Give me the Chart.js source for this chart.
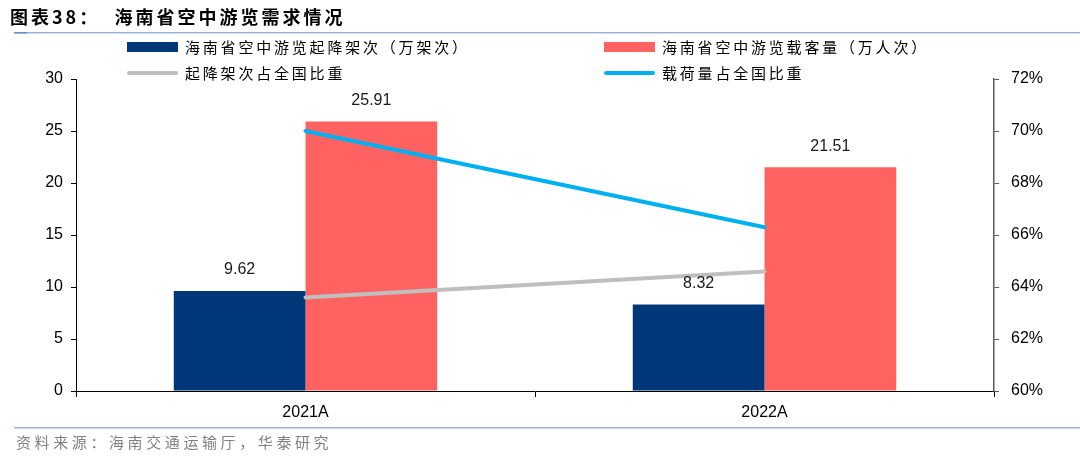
<!DOCTYPE html>
<html>
<head>
<meta charset="utf-8">
<script src="https://cdn.jsdelivr.net/npm/chart.js@4"></script>
<style>
  html, body { margin: 0; padding: 0; background: #fff; }
  #wrap { width: 1080px; height: 463px; position: relative; }
</style>
</head>
<body>
<div id="wrap"><canvas id="carta_demand"></canvas></div>
<script>
// data
const categories = ["2021A", "2022A"]
const flightsValues = [9.62, 8.32]        // 万架次
const passengerValues = [25.91, 21.51]    // 万人次
const flightsShare = [63.6, 64.6]         // % of country
const loadShare = [70.0, 66.3]            // % of country
const seriesNames = [
    "海南省空中游览起降架次（万架次）",
    "海南省空中游览载客量（万人次）",
    "起降架次占全国比重",
    "载荷量占全国比重"
]
const leftTicks = [0, 30, 5]
const rightTicks = [60, 72, 2]

const titleText = "图表38：  海南省空中游览需求情况"
const sourceText = "资料来源：海南交通运输厅，华泰研究"

const cjk = "'Noto Sans CJK SC', 'Noto Sans', sans-serif"
const latin = "'Liberation Sans', Arial, sans-serif"

// title, rules, legend, source and value labels
const decorations = {
    id: "decorations",
    afterDatasetsDraw(chart) {
        const ctx = chart.ctx
        ctx.save()

        // title
        ctx.fillStyle = "#000"
        ctx.font = "bold 18px " + cjk
        ctx.letterSpacing = "3px"
        ctx.textBaseline = "middle"
        ctx.textAlign = "left"
        ctx.fillText(titleText, 10, 17)

        // rules under title and above source
        ctx.fillStyle = "#9DB4DA"
        ctx.fillRect(14, 32, 1066, 1.5)
        ctx.fillRect(14, 427, 1066, 1.5)
        ctx.fillStyle = "#6F8FC8"
        ctx.fillRect(14, 32, 13, 1.5)

        // source
        ctx.fillStyle = "#808080"
        ctx.font = "15px " + cjk
        ctx.letterSpacing = "3.6px"
        ctx.fillText(sourceText, 16, 442)

        // legend, 2 x 2
        const ds = chart.data.datasets
        const slots = [[127, 47], [604, 47], [127, 73], [604, 73]]
        ctx.font = "15px " + cjk
        ctx.letterSpacing = "2.8px"
        ds.forEach((d, i) => {
            const [x, y] = slots[i]
            if (d.type === "bar") {
                ctx.fillStyle = d.backgroundColor
                ctx.fillRect(x, y - 5, 51, 10)
            } else {
                ctx.strokeStyle = d.borderColor
                ctx.lineWidth = 4
                ctx.lineCap = "round"
                ctx.beginPath()
                ctx.moveTo(x + 2, y)
                ctx.lineTo(x + 49, y)
                ctx.stroke()
            }
            ctx.fillStyle = "#000"
            ctx.fillText(d.label, x + 58, y)
        })

        // value labels above the bars
        ctx.letterSpacing = "0px"
        ctx.font = "16px " + latin
        ctx.textAlign = "center"
        ctx.fillStyle = "#1a1a1a"
        ds.forEach((d, i) => {
            if (d.type !== "bar") return
            chart.getDatasetMeta(i).data.forEach((bar, j) => {
                ctx.fillText(d.data[j].toFixed(2), bar.x, bar.y - 21)
            })
        })
        ctx.restore()
    }
}

const carta_demand = document.getElementById("carta_demand")
new Chart(carta_demand, {
    data: {
        labels: categories,
        datasets: [{
            type: "bar",
            label: seriesNames[0],
            backgroundColor: "#003778",
            data: flightsValues,
            yAxisID: "y",
            order: 1
        }, {
            type: "bar",
            label: seriesNames[1],
            backgroundColor: "#FF6361",
            data: passengerValues,
            yAxisID: "y",
            order: 1
        }, {
            type: "line",
            label: seriesNames[2],
            borderColor: "#BFBFBF",
            borderWidth: 4,
            pointRadius: 0,
            borderCapStyle: "round",
            data: flightsShare,
            yAxisID: "y1",
            order: 0
        }, {
            type: "line",
            label: seriesNames[3],
            borderColor: "#00B0F0",
            borderWidth: 4,
            pointRadius: 0,
            borderCapStyle: "round",
            data: loadShare,
            yAxisID: "y1",
            order: 0
        }]
    },
    options: {
        responsive: true,
        maintainAspectRatio: false,
        animation: false,
        layout: {
            padding: { top: 79, bottom: 32, left: 0, right: 0 }
        },
        plugins: {
            legend: { display: false },
            tooltip: { enabled: false }
        },
        datasets: {
            bar: { barPercentage: 1, categoryPercentage: 0.574 }
        },
        scales: {
            x: {
                offset: true,
                grid: { offset: true, drawOnChartArea: false, color: "#000", tickLength: 6 },
                border: { color: "#000", width: 1 },
                ticks: { color: "#000", font: { family: latin, size: 16 }, padding: 6 },
                afterFit: s => { s.height = 40 }
            },
            y: {
                position: "left",
                min: leftTicks[0],
                max: leftTicks[1],
                ticks: { stepSize: leftTicks[2], color: "#000", font: { family: latin, size: 16 }, padding: 8 },
                grid: { drawOnChartArea: false, color: "#000", tickLength: 5 },
                border: { color: "#000", width: 1 },
                afterFit: s => { s.width = 76 }
            },
            y1: {
                position: "right",
                min: rightTicks[0],
                max: rightTicks[1],
                ticks: {
                    stepSize: rightTicks[2],
                    color: "#000",
                    font: { family: latin, size: 16 },
                    padding: 12,
                    callback: v => v + "%"
                },
                grid: { drawOnChartArea: false, color: "#595959", tickLength: 5 },
                border: { color: "#595959", width: 1.5 },
                afterFit: s => { s.width = 86 }
            }
        }
    },
    plugins: [decorations]
});
</script>
</body>
</html>
